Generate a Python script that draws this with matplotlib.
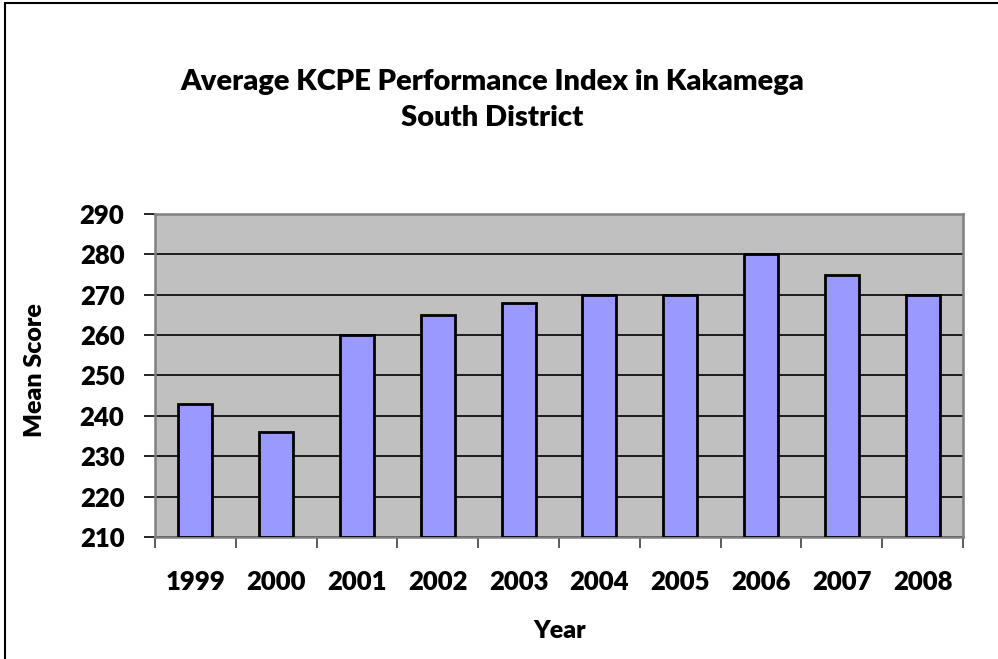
import matplotlib
matplotlib.use("Agg")
import matplotlib.pyplot as plt
from matplotlib.patches import Rectangle
import numpy as np

years = ["1999", "2000", "2001", "2002", "2003", "2004", "2005", "2006", "2007", "2008"]
mean_scores = [243, 236, 260, 265, 268, 270, 270, 280, 275, 270]
y_ticks = [210, 220, 230, 240, 250, 260, 270, 280, 290]

plt.rcParams['font.family'] = ['Lato', 'DejaVu Sans']
W = 'heavy'

fig = plt.figure(figsize=(9.98, 6.59), dpi=100)
fig.patch.set_facecolor('white')
fig.patches.append(Rectangle((5/998, -0.05), 1.1, 1 - 3/659 + 0.05, transform=fig.transFigure,
                             fill=False, edgecolor='black', linewidth=1.5))

ax = fig.add_axes([155/998, 1-537/659, (963-155)/998, (537-214)/659])
ax.set_facecolor('#C0C0C0')
x = np.arange(len(years))
ymin = y_ticks[0]
ax.bar(x, [v - ymin for v in mean_scores], bottom=ymin, width=0.42,
       color='#9999FF', edgecolor='black', linewidth=2, zorder=3)
ax.set_xlim(-0.5, len(years) - 0.5)
ax.set_ylim(y_ticks[0], y_ticks[-1])
ax.set_yticks(y_ticks)
ax.set_yticklabels([str(t) for t in y_ticks], fontsize=18.5, fontweight=W)
ax.yaxis.grid(True, color='black', linewidth=1.2, zorder=1)
ax.set_axisbelow(True)
ax.set_xticks(x)
ax.set_xticklabels(years, fontsize=18.5, fontweight=W)
ax.set_xticks(np.arange(-0.5, len(years), 1.0), minor=True)
ax.tick_params(axis='x', which='major', length=0, pad=24)
ax.tick_params(axis='x', which='minor', length=8, color='#404040', width=1.2)
ax.tick_params(axis='y', length=8, color='black', width=1.2, pad=14)
for s in ax.spines.values():
    s.set_color('#808080')
    s.set_linewidth(1.8)

fig.text(35/998, 1-370/659, 'Mean Score', rotation=90, ha='center', va='center',
         fontsize=18, fontweight=W)
fig.text(560/998, 1-631/659, 'Year', ha='center', va='center',
         fontsize=18, fontweight=W)

fig.text(492/998, 1-100/659, 'Average KCPE Performance Index in Kakamega\nSouth District',
         ha='center', va='center', fontsize=21, fontweight=W, linespacing=1.5)

fig.savefig('out.png', dpi=100)
